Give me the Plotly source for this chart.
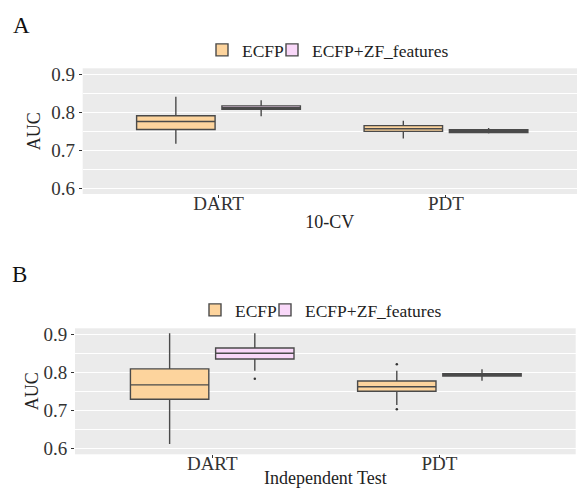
import plotly.graph_objects as go

W, H = 577, 488

categories = ["DART", "PDT"]
series_names = ["ECFP", "ECFP+ZF_features"]
tick_vals = [0.6, 0.7, 0.8, 0.9]
tick_text = ["0.6", "0.7", "0.8", "0.9"]

# Panel A (10-CV)
a_ecfp_q1 = [0.755, 0.750]
a_ecfp_med = [0.776, 0.757]
a_ecfp_q3 = [0.791, 0.765]
a_ecfp_lo = [0.717, 0.731]
a_ecfp_hi = [0.841, 0.778]

a_zf_q1 = [0.808, 0.747]
a_zf_med = [0.812, 0.751]
a_zf_q3 = [0.817, 0.754]
a_zf_lo = [0.790, 0.744]
a_zf_hi = [0.832, 0.759]

# Panel B (Independent Test)
b_ecfp_q1 = [0.729, 0.750]
b_ecfp_med = [0.767, 0.762]
b_ecfp_q3 = [0.809, 0.777]
b_ecfp_lo = [0.611, 0.714]
b_ecfp_hi = [0.903, 0.804]
b_ecfp_out = [[], [0.821, 0.703]]

b_zf_q1 = [0.835, 0.790]
b_zf_med = [0.850, 0.793]
b_zf_q3 = [0.864, 0.796]
b_zf_lo = [0.804, 0.778]
b_zf_hi = [0.903, 0.808]
b_zf_out = [[0.783], []]

FILL = {"ECFP": "#FDD49D", "ECFP+ZF_features": "#F9D8F9"}
LINE = "#4a4a4a"
FONT = "Liberation Serif"

fig = go.Figure()


def add_box(name, q1, med, q3, lo, hi, xa, ya, legend, pts=None):
    cats = list(categories)
    cols = [list(q1), list(med), list(q3), list(lo), list(hi)]
    kw = {}
    if pts is not None:
        pts = [list(p) for p in pts]
        # plotly needs the first box's sample list to be non-empty:
        # reorder boxes (the category axis keeps the display order)
        if len(pts[0]) == 0:
            order = sorted(range(len(cats)), key=lambda i: len(pts[i]) == 0)
            cats = [cats[i] for i in order]
            cols = [[c[i] for i in order] for c in cols]
            pts = [pts[i] for i in order]
        kw["y"] = pts
        kw["boxpoints"] = "outliers"
    else:
        kw["boxpoints"] = False
    fig.add_trace(go.Box(
        name=name, x=cats, q1=cols[0], median=cols[1], q3=cols[2],
        lowerfence=cols[3], upperfence=cols[4],
        fillcolor=FILL[name], line=dict(color=LINE, width=1.4),
        marker=dict(color="#333333", size=2.5),
        whiskerwidth=0, offsetgroup=name, xaxis=xa, yaxis=ya,
        legend=legend, showlegend=True, **kw))


add_box("ECFP", a_ecfp_q1, a_ecfp_med, a_ecfp_q3, a_ecfp_lo, a_ecfp_hi, "x", "y", "legend")
add_box("ECFP+ZF_features", a_zf_q1, a_zf_med, a_zf_q3, a_zf_lo, a_zf_hi, "x", "y", "legend3")
add_box("ECFP", b_ecfp_q1, b_ecfp_med, b_ecfp_q3, b_ecfp_lo, b_ecfp_hi, "x2", "y2", "legend2", b_ecfp_out)
add_box("ECFP+ZF_features", b_zf_q1, b_zf_med, b_zf_q3, b_zf_lo, b_zf_hi, "x2", "y2", "legend4", b_zf_out)

tickfont = dict(family=FONT, size=19, color="#333333")
titlefont = dict(family=FONT, size=18, color="#222222")


def xaxis(domain, rng, title, anchor, standoff):
    return dict(domain=domain, range=rng, anchor=anchor, type="category", categoryorder="array",
                categoryarray=categories, showgrid=False, zeroline=False, automargin=False,
                ticks="outside", ticklen=3, tickcolor="#333333", tickfont=tickfont,
                ticklabelstandoff=-11,
                title=dict(text=title, font=titlefont, standoff=standoff), showline=False)


def yaxis(domain, rng, anchor, standoff):
    return dict(domain=domain, range=rng, anchor=anchor, tickvals=tick_vals, ticktext=tick_text,
                showgrid=True, gridcolor="white", gridwidth=1.2, zeroline=False, automargin=False,
                ticks="outside", ticklen=3, tickcolor="#333333", tickfont=tickfont,
                minor=dict(dtick=0.05, tick0=0.6, showgrid=True, gridcolor="white", gridwidth=0.5, ticks=""),
                title=dict(text="AUC", font=titlefont, standoff=standoff), showline=False)


def legend_at(left_px, ymid_px):
    return dict(orientation="h", x=left_px / W, y=1 - ymid_px / H, xanchor="left", yanchor="middle",
                font=dict(family=FONT, size=17.5, color="#222222"), itemwidth=30,
                bgcolor="rgba(0,0,0,0)", borderwidth=0)


fig.update_layout(
    width=W, height=H, margin=dict(l=0, r=0, t=0, b=0, autoexpand=False),
    paper_bgcolor="white", plot_bgcolor="#EBEBEB",
    boxmode="group", boxgap=0.25, boxgroupgap=0.08,
    font=dict(family=FONT, size=17, color="#222222"),
    xaxis=xaxis([82.7 / W, 1.0], [-0.597, 1.576], "10-CV", "y", 2),
    yaxis=yaxis([1 - 194 / H, 1 - 68.3 / H], [0.585, 0.916], "x", 5),
    xaxis2=xaxis([75 / W, 575.7 / W], [-0.604, 1.60], "Independent Test", "y2", 5),
    yaxis2=yaxis([1 - 454.3 / H, 1 - 328.3 / H], [0.5842, 0.9158], "x2", 0),
    legend=legend_at(242 - 40, 50),
    legend3=legend_at(312 - 40, 50),
    legend2=legend_at(235 - 40, 310),
    legend4=legend_at(305 - 40, 310),
    annotations=[
        dict(text="A", x=11 / W, y=1 - 25 / H, xref="paper", yref="paper", xanchor="left",
             yanchor="middle", showarrow=False, font=dict(family=FONT, size=23, color="#111111")),
        dict(text="B", x=10 / W, y=1 - 274 / H, xref="paper", yref="paper", xanchor="left",
             yanchor="middle", showarrow=False, font=dict(family=FONT, size=23, color="#111111")),
    ],
)

fig.write_html("out.html")
